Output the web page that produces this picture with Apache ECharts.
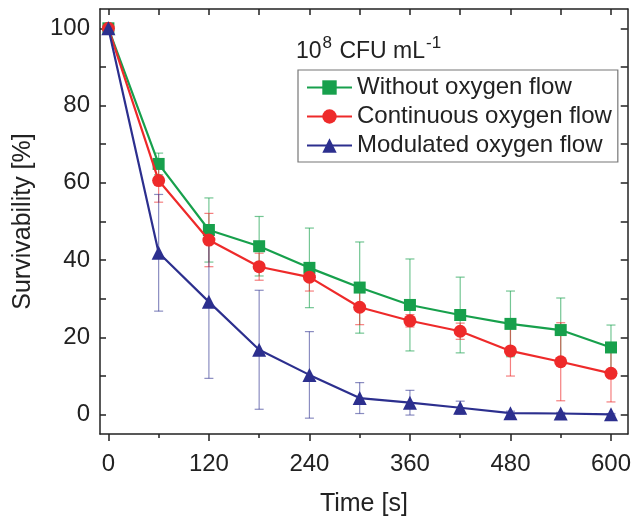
<!DOCTYPE html>
<html>
<head>
<meta charset="utf-8">
<script src="https://cdn.jsdelivr.net/npm/echarts@6/dist/echarts.min.js"></script>
<style>
  html, body { margin: 0; padding: 0; background: #fff; }
  #chart { width: 634px; height: 522px; }
</style>
</head>
<body>
<div id="chart"></div>
<script>
// time points (s)
var times = [0, 60, 120, 180, 240, 300, 360, 420, 480, 540, 600];

// survivability (%)
var withoutFlow = [100, 64.9, 47.8, 43.6, 38.0, 32.9, 28.4, 25.8, 23.5, 21.9, 17.4];
var withoutErr  = [0, 2.8, 8.3, 7.7, 10.3, 11.8, 11.9, 9.8, 8.5, 8.3, 5.8];

var continuousFlow = [100, 60.6, 45.2, 38.3, 35.6, 27.8, 24.3, 21.6, 16.5, 13.7, 10.7];
var continuousErr  = [0, 5.6, 6.9, 3.5, 3.6, 4.5, 1.6, 2.1, 6.5, 10.1, 7.4];

var modulatedFlow = [100, 41.9, 29.2, 16.8, 10.3, 4.3, 3.1, 1.8, 0.4, 0.3, 0.1];
var modulatedErr  = [0, 15.1, 19.8, 15.4, 11.2, 4.0, 3.2, 1.7, 0.5, 0.3, 0.2];

var xTickLabels = [0, 120, 240, 360, 480, 600];
var xMinorTicks = [60, 180, 300, 420, 540];
var xAllTicks = [0, 60, 120, 180, 240, 300, 360, 420, 480, 540, 600];
var yTickLabels = [0, 20, 40, 60, 80, 100];
var yAllTicks = [0, 10, 20, 30, 40, 50, 60, 70, 80, 90, 100];

var names = ['Without oxygen flow', 'Continuous oxygen flow', 'Modulated oxygen flow'];
var colors = ['#17a04c', '#ee2a2a', '#2c2f8e'];
var errColors = ['rgba(23,160,76,0.6)', 'rgba(238,42,42,0.6)', 'rgba(44,47,142,0.55)'];

var font = 'Liberation Sans, Arial, sans-serif';
var frame = { show: true, onZero: false, lineStyle: { color: '#222', width: 1.5 } };

function pairs(vals) {
  return times.map(function (t, i) { return [t, vals[i]]; });
}
function triples(vals, errs) {
  return times.map(function (t, i) { return [t, vals[i], errs[i]]; });
}

function errorBar(color) {
  return function (params, api) {
    var x = api.value(0), y = api.value(1), e = api.value(2);
    if (!e) return null;
    var top = api.coord([x, y + e]);
    var bot = api.coord([x, y - e]);
    var w = 4.5;
    var st = { stroke: color, lineWidth: 1.2 };
    return {
      type: 'group',
      children: [
        { type: 'line', shape: { x1: top[0], y1: top[1], x2: bot[0], y2: bot[1] }, style: st },
        { type: 'line', shape: { x1: top[0] - w, y1: top[1], x2: top[0] + w, y2: top[1] }, style: st },
        { type: 'line', shape: { x1: bot[0] - w, y1: bot[1], x2: bot[0] + w, y2: bot[1] }, style: st }
      ]
    };
  };
}

var myChart = echarts.init(document.getElementById('chart'));
var option = {
  animation: false,
  textStyle: { fontFamily: font },
  grid: { left: 100, right: 4, top: 9, bottom: 88 },
  title: {
    text: '{n|10}{sup|8}{n| CFU mL}{sup|-1}',
    left: 291, top: 30,
    textStyle: {
      fontWeight: 'normal',
      rich: {
        n: { fontSize: 23, color: '#222', fontFamily: font, fontWeight: 'normal', verticalAlign: 'bottom', lineHeight: 28 },
        sup: { fontSize: 17, color: '#222', fontFamily: font, fontWeight: 'normal', verticalAlign: 'top', lineHeight: 28, padding: [0, 1, 10, 1] }
      }
    }
  },
  legend: {
    data: names,
    orient: 'vertical',
    left: 298, top: 70,
    padding: [5, 6, 4, 8],
    itemWidth: 45, itemHeight: 18, itemGap: 4,
    borderColor: '#777', borderWidth: 1.2,
    textStyle: { fontSize: 24, color: '#222', fontFamily: font, lineHeight: 25 }
  },
  xAxis: [
    {
      type: 'value', min: -10, max: 620, position: 'bottom',
      name: 'Time [s]', nameLocation: 'middle', nameGap: 58,
      nameTextStyle: { fontSize: 25, color: '#222', fontFamily: font },
      axisLine: frame,
      axisTick: { show: true, inside: false, length: 7, customValues: xTickLabels, lineStyle: { color: '#222', width: 1.5 } },
      axisLabel: { customValues: xTickLabels, fontSize: 24, color: '#222', margin: 18 },
      splitLine: { show: false }
    },
    {
      type: 'value', min: -10, max: 620, position: 'bottom',
      axisLine: { show: false, onZero: false },
      axisTick: { show: true, inside: false, length: 4, customValues: xMinorTicks, lineStyle: { color: '#222', width: 1.5 } },
      axisLabel: { show: false },
      splitLine: { show: false }
    },
    {
      type: 'value', min: -10, max: 620, position: 'top',
      axisLine: frame,
      axisTick: { show: true, inside: true, length: 6, customValues: xAllTicks, lineStyle: { color: '#222', width: 1.5 } },
      axisLabel: { show: false },
      splitLine: { show: false }
    }
  ],
  yAxis: [
    {
      type: 'value', min: -5, max: 105, position: 'left',
      name: 'Survivability [%]', nameLocation: 'middle', nameGap: 64,
      nameTextStyle: { fontSize: 25, color: '#222', fontFamily: font },
      axisLine: frame,
      axisTick: { show: true, inside: true, length: 6, customValues: yAllTicks, lineStyle: { color: '#222', width: 1.5 } },
      axisLabel: { customValues: yTickLabels, fontSize: 24, color: '#222', margin: 10 },
      splitLine: { show: false }
    },
    {
      type: 'value', min: -5, max: 105, position: 'right',
      axisLine: frame,
      axisTick: { show: true, inside: true, length: 7, customValues: yAllTicks, lineStyle: { color: '#222', width: 1.5 } },
      axisLabel: { show: false },
      splitLine: { show: false }
    }
  ],
  series: [
    { type: 'custom', name: 'err0', renderItem: errorBar(errColors[0]), data: triples(withoutFlow, withoutErr), z: 1 },
    { type: 'custom', name: 'err1', renderItem: errorBar(errColors[1]), data: triples(continuousFlow, continuousErr), z: 1 },
    { type: 'custom', name: 'err2', renderItem: errorBar(errColors[2]), data: triples(modulatedFlow, modulatedErr), z: 1 },
    {
      type: 'line', name: names[0], data: pairs(withoutFlow),
      symbol: 'rect', symbolSize: 12, z: 3,
      lineStyle: { color: colors[0], width: 2.2 }, itemStyle: { color: colors[0] }
    },
    {
      type: 'line', name: names[1], data: pairs(continuousFlow),
      symbol: 'circle', symbolSize: 13, z: 4,
      lineStyle: { color: colors[1], width: 2.2 }, itemStyle: { color: colors[1] }
    },
    {
      type: 'line', name: names[2], data: pairs(modulatedFlow),
      symbol: 'triangle', symbolSize: 14, z: 5,
      lineStyle: { color: colors[2], width: 2.2 }, itemStyle: { color: colors[2] }
    }
  ]
};
option && myChart.setOption(option);
</script>
</body>
</html>
